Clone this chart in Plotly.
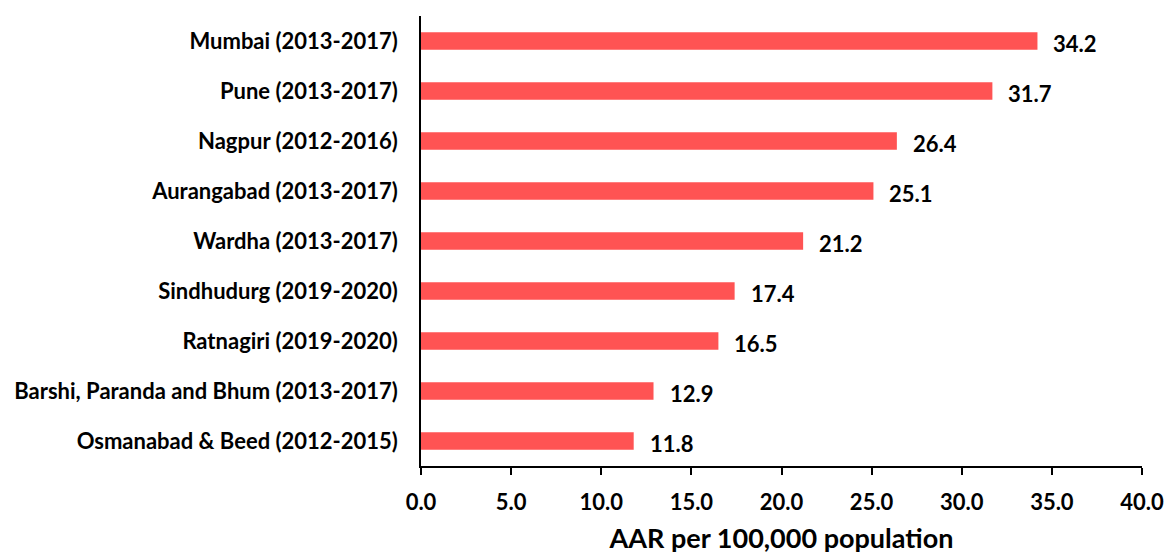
import plotly.graph_objects as go

categories = [
    "Mumbai (2013-2017)",
    "Pune (2013-2017)",
    "Nagpur (2012-2016)",
    "Aurangabad (2013-2017)",
    "Wardha (2013-2017)",
    "Sindhudurg (2019-2020)",
    "Ratnagiri (2019-2020)",
    "Barshi, Paranda and Bhum (2013-2017)",
    "Osmanabad & Beed (2012-2015)",
]
values = [34.2, 31.7, 26.4, 25.1, 21.2, 17.4, 16.5, 12.9, 11.8]
tick_vals = [0, 5, 10, 15, 20, 25, 30, 35, 40]
tick_text = ["0.0", "5.0", "10.0", "15.0", "20.0", "25.0", "30.0", "35.0", "40.0"]

FONT = "Lato, 'Open Sans', sans-serif"

fig = go.Figure()
fig.add_trace(go.Bar(
    x=values,
    y=categories,
    orientation="h",
    marker=dict(color="#FF5353", line=dict(width=0)),
    width=0.35,
    hoverinfo="skip",
))

for v, c in zip(values, categories):
    fig.add_annotation(
        x=v, y=c, text=f"<b>{v:.1f}</b>", showarrow=False,
        xanchor="left", xshift=14, yshift=-2,
        font=dict(family=FONT, size=22, color="black"),
    )

fig.update_layout(
    width=1167, height=554,
    margin=dict(l=421, r=25, t=16, b=88, autoexpand=False),
    plot_bgcolor="white", paper_bgcolor="white",
    showlegend=False,
    font=dict(family=FONT, color="black"),
)
fig.update_xaxes(
    range=[0, 40], tickvals=tick_vals, ticktext=[f"<b>{t}</b>" for t in tick_text],
    showgrid=False, zeroline=False, automargin=False,
    showline=True, linecolor="black", linewidth=1.5,
    ticks="outside", ticklen=7, tickwidth=1.5, tickcolor="black",
    ticklabelstandoff=9,
    tickfont=dict(family=FONT, size=22, color="black"),
    title=dict(text="<b>AAR per 100,000 population</b>", font=dict(family=FONT, size=27, color="black"), standoff=19),
)
fig.update_yaxes(
    autorange="reversed", automargin=False,
    tickvals=categories, ticktext=[f"<b>{c}</b>" for c in categories],
    showgrid=False, zeroline=False,
    showline=True, linecolor="black", linewidth=1.5,
    ticks="", ticklabelstandoff=17,
    tickfont=dict(family=FONT, size=22, color="black"),
)

fig.write_html(
    "out.html",
    config={"displayModeBar": False},
    post_script="document.body.style.margin='0';document.body.style.overflow='hidden';",
)
